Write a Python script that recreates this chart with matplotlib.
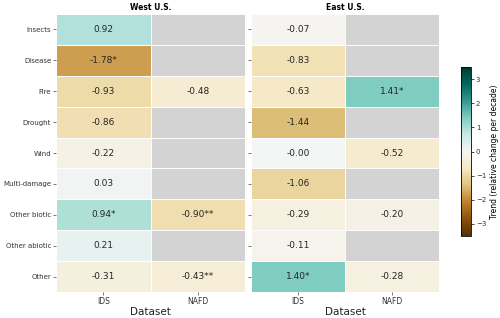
import numpy as np
import matplotlib
matplotlib.use("Agg")
import matplotlib.pyplot as plt

categories = ["Insects", "Disease", "Fire", "Drought", "Wind", "Multi-damage",
              "Other biotic", "Other abiotic", "Other"]
datasets = ["IDS", "NAFD"]

west_ids = [0.92, -1.78, -0.93, -0.86, -0.22, 0.03, 0.94, 0.21, -0.31]
west_nafd = [np.nan, np.nan, -0.48, np.nan, np.nan, np.nan, -0.90, np.nan, -0.43]
west_ids_sig = ["", "*", "", "", "", "", "*", "", ""]
west_nafd_sig = ["", "", "", "", "", "", "**", "", "**"]

east_ids = [-0.07, -0.83, -0.63, -1.44, -0.00, -1.06, -0.29, -0.11, 1.40]
east_nafd = [np.nan, np.nan, 1.41, np.nan, -0.52, np.nan, -0.20, np.nan, -0.28]
east_ids_sig = ["", "", "", "", "", "", "", "", "*"]
east_nafd_sig = ["", "", "*", "", "", "", "", "", ""]

vmin, vmax = -3.5, 3.5
cmap = plt.get_cmap("BrBG").copy()

fig = plt.figure(figsize=(5, 3.18), dpi=100)
W, H = 500, 318
def ax_rect(x0, y0, x1, y1):
    return [x0 / W, 1 - y1 / H, (x1 - x0) / W, (y1 - y0) / H]

ax1 = fig.add_axes(ax_rect(56, 14, 245, 292))
ax2 = fig.add_axes(ax_rect(251, 14, 439, 292))
cax = fig.add_axes(ax_rect(461, 67, 471, 236))

def draw(ax, ids, nafd, ids_sig, nafd_sig, title, show_labels):
    data = np.array([ids, nafd]).T
    sig = [ids_sig, nafd_sig]
    ax.set_facecolor("#d3d3d3")
    m = np.ma.masked_invalid(data)
    mesh = ax.pcolormesh(np.arange(3), np.arange(len(categories) + 1), m,
                         cmap=cmap, vmin=vmin, vmax=vmax,
                         edgecolors="white", linewidth=0.6)
    for i in range(len(categories)):
        for j in range(2):
            v = data[i, j]
            if np.isnan(v):
                ax.add_patch(plt.Rectangle((j, i), 1, 1, facecolor="#d3d3d3",
                                           edgecolor="white", linewidth=0.6))
            else:
                ax.text(j + 0.5, i + 0.5, f"{v:.2f}{sig[j][i]}",
                        ha="center", va="center", fontsize=6.5, color="#262626")
    ax.set_xlim(0, 2)
    ax.set_ylim(len(categories), 0)
    ax.set_xticks([0.5, 1.5])
    ax.set_xticklabels(datasets, fontsize=5.5)
    ax.set_yticks(np.arange(len(categories)) + 0.5)
    if show_labels:
        ax.set_yticklabels(categories, fontsize=5)
    else:
        ax.set_yticklabels([])
    ax.tick_params(length=2, width=0.5, color="#444444", pad=1.5, labelcolor="#333333")
    for s in ax.spines.values():
        s.set_visible(False)
    ax.set_xlabel("Dataset", fontsize=7.5, labelpad=1, color="#222222")
    ax.set_title(title, fontsize=5.5, fontweight="bold", pad=3)
    return mesh

mesh = draw(ax1, west_ids, west_nafd, west_ids_sig, west_nafd_sig, "West U.S.", True)
draw(ax2, east_ids, east_nafd, east_ids_sig, east_nafd_sig, "East U.S.", False)

cb = fig.colorbar(mesh, cax=cax)
cb.set_ticks([-3, -2, -1, 0, 1, 2, 3])
cb.ax.tick_params(labelsize=5, length=2, width=0.5, pad=1.5, labelcolor="#333333")
cb.set_label("Trend (relative change per decade)", fontsize=5.5, labelpad=3)
cb.outline.set_linewidth(0.6)

fig.savefig("out.png", dpi=100)
